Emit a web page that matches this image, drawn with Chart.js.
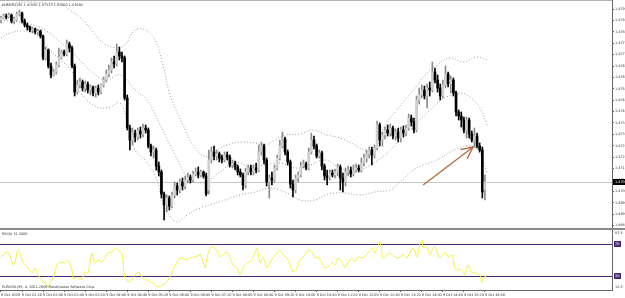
<!DOCTYPE html>
<html><head><meta charset="utf-8">
<script src="https://cdn.jsdelivr.net/npm/chart.js@4/dist/chart.umd.min.js"></script>
<style>
html,body{margin:0;padding:0;background:#fff;width:625px;height:298px;overflow:hidden;position:relative}
#main{position:absolute;left:0;top:0}
#sep{position:absolute;left:0;top:228px;width:625px;height:2px;background:#8a8a8a}
#rsi{position:absolute;left:0;top:230px}
</style></head><body>
<canvas id="main" width="625" height="228"></canvas>
<div id="sep"></div>
<canvas id="rsi" width="625" height="68"></canvas>
<script>
// ---- data ----
const symbolTitle = "EURUSD,M5";
const opens = [1.47900,1.47910,1.47920,1.47915,1.47925,1.47895,1.47900,1.47930,1.47935,1.47895,1.47875,1.47865,1.47850,1.47855,1.47840,1.47845,1.47820,1.47710,1.47750,1.47670,1.47625,1.47640,1.47675,1.47715,1.47740,1.47730,1.47780,1.47760,1.47670,1.47540,1.47575,1.47590,1.47560,1.47580,1.47550,1.47565,1.47535,1.47560,1.47540,1.47575,1.47600,1.47630,1.47650,1.47690,1.47680,1.47740,1.47720,1.47710,1.47510,1.47360,1.47300,1.47335,1.47315,1.47345,1.47330,1.47360,1.47350,1.47270,1.47240,1.47250,1.47170,1.47140,1.47030,1.46975,1.47010,1.46970,1.47025,1.47070,1.47050,1.47090,1.47070,1.47100,1.47115,1.47100,1.47130,1.47140,1.47125,1.47140,1.47120,1.47050,1.47200,1.47240,1.47220,1.47230,1.47210,1.47200,1.47225,1.47215,1.47175,1.47185,1.47165,1.47140,1.47125,1.47075,1.47140,1.47160,1.47140,1.47160,1.47150,1.47240,1.47270,1.47200,1.47090,1.47110,1.47100,1.47160,1.47210,1.47270,1.47305,1.47240,1.47190,1.47080,1.47050,1.47110,1.47125,1.47170,1.47180,1.47160,1.47240,1.47300,1.47270,1.47220,1.47235,1.47170,1.47120,1.47110,1.47135,1.47125,1.47140,1.47165,1.47110,1.47090,1.47140,1.47150,1.47130,1.47150,1.47160,1.47150,1.47185,1.47210,1.47230,1.47250,1.47225,1.47260,1.47375,1.47300,1.47325,1.47350,1.47335,1.47360,1.47320,1.47340,1.47310,1.47350,1.47335,1.47360,1.47410,1.47390,1.47350,1.47500,1.47525,1.47550,1.47520,1.47560,1.47550,1.47640,1.47600,1.47560,1.47520,1.47575,1.47630,1.47580,1.47600,1.47535,1.47440,1.47420,1.47400,1.47350,1.47400,1.47330,1.47300,1.47320,1.47270,1.47250,1.47050];
const highs = [1.47920,1.47930,1.47930,1.47935,1.47930,1.47915,1.47940,1.47950,1.47940,1.47905,1.47885,1.47870,1.47865,1.47860,1.47855,1.47850,1.47825,1.47765,1.47755,1.47685,1.47655,1.47690,1.47760,1.47750,1.47750,1.47800,1.47790,1.47770,1.47680,1.47600,1.47610,1.47600,1.47595,1.47590,1.47575,1.47570,1.47570,1.47575,1.47580,1.47615,1.47650,1.47675,1.47710,1.47720,1.47780,1.47765,1.47740,1.47720,1.47525,1.47375,1.47360,1.47350,1.47360,1.47365,1.47380,1.47375,1.47360,1.47280,1.47270,1.47260,1.47190,1.47150,1.47040,1.47025,1.47020,1.47040,1.47090,1.47085,1.47105,1.47110,1.47120,1.47135,1.47125,1.47145,1.47160,1.47165,1.47150,1.47145,1.47135,1.47250,1.47265,1.47270,1.47250,1.47240,1.47225,1.47240,1.47240,1.47225,1.47200,1.47195,1.47175,1.47155,1.47135,1.47160,1.47175,1.47175,1.47175,1.47185,1.47275,1.47290,1.47280,1.47210,1.47125,1.47140,1.47175,1.47225,1.47300,1.47340,1.47315,1.47250,1.47200,1.47100,1.47125,1.47140,1.47190,1.47200,1.47190,1.47260,1.47335,1.47320,1.47280,1.47250,1.47245,1.47180,1.47150,1.47150,1.47150,1.47155,1.47180,1.47175,1.47135,1.47160,1.47170,1.47165,1.47175,1.47180,1.47175,1.47210,1.47230,1.47250,1.47265,1.47265,1.47275,1.47395,1.47385,1.47340,1.47365,1.47375,1.47380,1.47370,1.47355,1.47360,1.47365,1.47370,1.47375,1.47430,1.47425,1.47410,1.47520,1.47560,1.47575,1.47570,1.47580,1.47590,1.47690,1.47660,1.47625,1.47580,1.47600,1.47670,1.47640,1.47620,1.47610,1.47545,1.47450,1.47440,1.47415,1.47415,1.47410,1.47345,1.47360,1.47335,1.47285,1.47265,1.47125];
const lows = [1.47885,1.47905,1.47905,1.47910,1.47885,1.47880,1.47895,1.47920,1.47885,1.47865,1.47850,1.47840,1.47835,1.47830,1.47825,1.47810,1.47700,1.47700,1.47660,1.47610,1.47620,1.47630,1.47665,1.47705,1.47720,1.47720,1.47740,1.47660,1.47520,1.47530,1.47560,1.47545,1.47540,1.47535,1.47525,1.47520,1.47515,1.47525,1.47530,1.47565,1.47590,1.47615,1.47635,1.47660,1.47670,1.47700,1.47690,1.47500,1.47350,1.47250,1.47275,1.47290,1.47300,1.47310,1.47315,1.47335,1.47260,1.47220,1.47210,1.47150,1.47120,1.47010,1.46900,1.46940,1.46950,1.46960,1.47010,1.47025,1.47035,1.47050,1.47055,1.47085,1.47085,1.47090,1.47120,1.47110,1.47115,1.47110,1.47020,1.47030,1.47185,1.47200,1.47200,1.47190,1.47185,1.47190,1.47200,1.47165,1.47160,1.47150,1.47125,1.47115,1.47050,1.47060,1.47125,1.47125,1.47125,1.47135,1.47140,1.47225,1.47180,1.47070,1.47010,1.47075,1.47090,1.47150,1.47200,1.47260,1.47225,1.47175,1.47060,1.47015,1.47035,1.47090,1.47115,1.47160,1.47150,1.47150,1.47230,1.47255,1.47210,1.47210,1.47150,1.47100,1.47075,1.47100,1.47115,1.47110,1.47120,1.47050,1.47040,1.47070,1.47120,1.47115,1.47120,1.47140,1.47140,1.47140,1.47170,1.47190,1.47210,1.47175,1.47210,1.47250,1.47270,1.47270,1.47305,1.47320,1.47320,1.47305,1.47300,1.47290,1.47290,1.47315,1.47320,1.47350,1.47370,1.47335,1.47340,1.47480,1.47510,1.47505,1.47460,1.47520,1.47540,1.47585,1.47540,1.47500,1.47510,1.47560,1.47565,1.47535,1.47520,1.47420,1.47400,1.47365,1.47335,1.47310,1.47310,1.47290,1.47265,1.47260,1.47240,1.47010,1.47000];
const closes = [1.47910,1.47920,1.47915,1.47925,1.47895,1.47905,1.47930,1.47935,1.47895,1.47875,1.47865,1.47850,1.47855,1.47840,1.47845,1.47820,1.47710,1.47750,1.47670,1.47625,1.47640,1.47675,1.47715,1.47740,1.47730,1.47780,1.47760,1.47670,1.47540,1.47575,1.47590,1.47560,1.47580,1.47550,1.47565,1.47535,1.47560,1.47540,1.47575,1.47600,1.47630,1.47650,1.47690,1.47680,1.47740,1.47720,1.47710,1.47510,1.47360,1.47300,1.47335,1.47315,1.47345,1.47330,1.47360,1.47350,1.47270,1.47240,1.47250,1.47170,1.47140,1.47030,1.46975,1.47010,1.46970,1.47025,1.47070,1.47050,1.47090,1.47070,1.47100,1.47115,1.47100,1.47130,1.47140,1.47125,1.47140,1.47120,1.47030,1.47200,1.47240,1.47220,1.47230,1.47210,1.47200,1.47225,1.47215,1.47175,1.47185,1.47165,1.47140,1.47125,1.47075,1.47140,1.47160,1.47140,1.47160,1.47150,1.47240,1.47270,1.47200,1.47090,1.47110,1.47100,1.47160,1.47210,1.47270,1.47305,1.47240,1.47190,1.47080,1.47050,1.47110,1.47125,1.47170,1.47180,1.47160,1.47240,1.47300,1.47270,1.47220,1.47235,1.47170,1.47120,1.47110,1.47135,1.47125,1.47140,1.47165,1.47110,1.47090,1.47140,1.47150,1.47130,1.47150,1.47160,1.47150,1.47185,1.47210,1.47230,1.47250,1.47225,1.47260,1.47375,1.47300,1.47325,1.47350,1.47335,1.47360,1.47320,1.47340,1.47310,1.47350,1.47335,1.47360,1.47410,1.47390,1.47350,1.47500,1.47525,1.47550,1.47520,1.47560,1.47550,1.47640,1.47600,1.47560,1.47520,1.47575,1.47630,1.47580,1.47600,1.47535,1.47440,1.47420,1.47400,1.47350,1.47400,1.47330,1.47300,1.47320,1.47270,1.47250,1.47040,1.47090];

// Bollinger-style bands: bar index and price
const upperBars = [0,5.3,11,16.7,22.4,26.2,31.2,35,39.5,44.1,47.1,51,54.8,58.6,61.6,64.3,69.2,73.8,78.7,82.1,87.1,92,96.6,100.4,104.2,108,113.7,118.3,124,128.9,134.6,138.4,142.2,146,149.8,153.6,157.4,161.2,165.8,170.7,175.7,181,184.8];
const upperVals = [1.47970,1.47985,1.47990,1.47985,1.47980,1.47950,1.47900,1.47840,1.47780,1.47760,1.47775,1.47850,1.47850,1.47800,1.47675,1.47525,1.47375,1.47260,1.47215,1.47250,1.47280,1.47290,1.47285,1.47275,1.47300,1.47325,1.47330,1.47350,1.47325,1.47310,1.47275,1.47250,1.47260,1.47375,1.47440,1.47500,1.47560,1.47625,1.47675,1.47710,1.47690,1.47715,1.47700];
const middleBars = [0,11,16.7,22.4,28.1,33.8,39.5,45.2,51,55.5,60.5,66.2,71.9,77.6,83.3,89,94.7,100.4,106.1,111.8,117.5,123.2,128.9,134.6,140.3,146,151.7,157.4,163.1,168.8,174.5,178.3,182.1,184.8];
const middleVals = [1.47900,1.47880,1.47850,1.47790,1.47725,1.47650,1.47600,1.47625,1.47550,1.47500,1.47375,1.47225,1.47100,1.47090,1.47140,1.47190,1.47165,1.47175,1.47185,1.47160,1.47175,1.47200,1.47160,1.47140,1.47175,1.47225,1.47300,1.47375,1.47450,1.47510,1.47535,1.47515,1.47460,1.47375];
const lowerBars = [0,3.4,8.4,13.7,18.6,23.6,27,30,36.5,41.4,45.2,47.9,51,54.8,58.6,61.2,63.1,66.9,70.7,75.7,79.5,85.2,90.9,96.6,102.3,108,113.7,119.4,123.2,127,130.8,136.5,142.2,147.9,151.7,156.7,160.5,165.8,170.7,174.5,178.3,181.4,184.8];
const lowerVals = [1.47810,1.47835,1.47845,1.47830,1.47750,1.47690,1.47640,1.47540,1.47465,1.47465,1.47485,1.47400,1.47250,1.47200,1.47125,1.47000,1.46940,1.46890,1.46925,1.46960,1.46975,1.47000,1.47025,1.47040,1.47060,1.47040,1.47000,1.47000,1.47025,1.47035,1.47035,1.47025,1.47040,1.47050,1.47090,1.47150,1.47175,1.47200,1.47240,1.47260,1.47270,1.47250,1.47140];

// RSI
const rsiName = "RSI(8)";
const rsiBars = [0,1.5,2.7,4.2,4.6,5.3,6.1,6.5,7.2,8.4,10.3,11.8,12.9,14.1,15.6,16.7,17.9,18.6,19.8,21.3,22.4,24.3,25.5,27,27.4,28.9,30.8,31.9,33.1,34.6,35.7,36.9,38.4,39.5,40.7,42.2,43.3,44.5,46,47.1,49,50.2,52.1,53.6,55.5,57.8,59.7,61.6,63.1,65,66.2,68.1,70.7,71.9,73.8,75.7,76.8,77.6,78.3,79.5,80.6,82.1,83.3,84.4,85.9,87.1,88.2,89.7,90.9,92,93.5,94.7,95.8,97.3,98.5,99.6,101.1,102.3,103.4,106.1,107.2,108.7,109.9,111,112.5,113.7,115.6,116.7,118.3,119.4,120.5,122.1,123.2,124.3,125.9,127,128.1,129.7,130.8,131.9,133.5,134.6,135.7,137.6,139.5,141.1,142.2,144.1,145.2,146.8,147.9,149,150.6,151.7,152.9,154.4,155.5,156.7,158.2,159.3,160.1,160.5,162,163.1,164.3,165,165.8,166.9,168.8,170,171.5,172.6,173.8,175.3,176.4,177.6,179.1,180.2,181.4,182.1,182.9,183.3,184,184.8];
const rsiVals = [53.8,58.8,60,47.5,43.8,46.3,60,62.5,58.8,47.5,40,33.8,40,31.3,25,21.3,16.3,21.3,27.5,43.8,47.5,46.3,50,37.5,27.5,27.5,26.3,35,33.8,58.8,46.3,50,47.5,52.5,58.8,60,65,62.5,58.8,27.5,22.5,27.5,35,28.8,25,21.3,16.3,18.8,22.5,33.8,43.8,52.5,50,52.5,53.8,56.3,47.5,40,52.5,65,66.3,62.5,53.8,56.3,60,52.5,43.8,40,31.3,40,46.3,47.5,52.5,65,46.3,53.8,40,47.5,52.5,62.5,56.3,52.5,43.8,35,40,50,56.3,62.5,60,52.5,53.8,46.3,40,41.3,46.3,43.8,52.5,47.5,40,46.3,52.5,47.5,53.8,52.5,58.8,65,58.8,72.5,52.5,56.3,58.8,56.3,52.5,53.8,56.3,52.5,60,65,53.8,71.3,75,65,66.3,56.3,65,66.3,60,52.5,60,53.8,56.3,40,37.5,37.5,31.3,43.8,33.8,35,31.3,31.3,21.3,27.5,28.8,31.3];
const rsiLevels = [70, 30];

// axis ticks
const priceTicks = [1.47955,1.47898,1.47841,1.47784,1.47727,1.47670,1.47613,1.47556,1.47499,1.47442,1.47385,1.47328,1.47271,1.47214,1.47157,1.47100,1.47043,1.46986,1.46929,1.46872];
const timeTickBars = [0,8,16,24,32,40,48,56,64,72,80,88,96,104,112,120,128,136,144,152,160,168,176,184];
const timeTickLabels = ["9 Oct 2009","9 Oct 01:20","9 Oct 02:00","9 Oct 02:40","9 Oct 03:20","9 Oct 04:00","9 Oct 04:40","9 Oct 05:20","9 Oct 06:00","9 Oct 06:40","9 Oct 07:20","9 Oct 08:00","9 Oct 08:40","9 Oct 09:20","9 Oct 10:00","9 Oct 10:40","9 Oct 11:20","9 Oct 12:00","9 Oct 12:40","9 Oct 13:20","9 Oct 14:00","9 Oct 14:40","9 Oct 15:20","9 Oct 16:00"];

// drawn arrow (bar index, price)
const arrowFrom = [160.5, 1.47075];
const arrowTo = [179.5, 1.47265];
const copyright = "EURUSD,M5, \u00a9 2001-2009 MetaQuotes Software Corp.";

// ---- build ----
const FONT = 'DejaVu Sans';
const FS = 3.4;
const TXT = '#333';
const XMIN = -0.38, XMAX = 232.3;
const n = closes.length;
const idx = closes.map((_, i) => i);
const isBull = i => closes[i] >= opens[i];
const pts = (xs, ys) => xs.map((x, i) => ({x: x, y: ys[i]}));
const bandStyle = {type:'line', borderColor:'#9c9c9c', borderWidth:1, borderDash:[1,2], pointRadius:0, fill:false, tension:0.4, order:2};

const mainOverlay = {
  id: 'mainOverlay',
  beforeDatasetsDraw(chart) {
    const {ctx, chartArea:a, scales} = chart;
    const y = Math.round(scales.y.getPixelForValue(closes[n-1])) + 0.5;
    ctx.save();
    ctx.strokeStyle = '#c8c8c8'; ctx.lineWidth = 1;
    ctx.beginPath(); ctx.moveTo(a.left, y); ctx.lineTo(a.right, y); ctx.stroke();
    ctx.strokeStyle = '#b4b4b4';
    ctx.beginPath(); ctx.moveTo(a.left, 0.5); ctx.lineTo(a.right, 0.5); ctx.stroke();
    ctx.restore();
  },
  afterDatasetsDraw(chart) {
    const {ctx, chartArea:a, scales} = chart;
    const x1 = scales.x.getPixelForValue(arrowFrom[0]), y1 = scales.y.getPixelForValue(arrowFrom[1]);
    const x2 = scales.x.getPixelForValue(arrowTo[0]), y2 = scales.y.getPixelForValue(arrowTo[1]);
    ctx.save();
    ctx.strokeStyle = '#b4683c'; ctx.lineWidth = 1.3;
    ctx.beginPath(); ctx.moveTo(x1, y1); ctx.lineTo(x2, y2); ctx.stroke();
    const ang = Math.atan2(y2 - y1, x2 - x1), L = 13;
    ctx.beginPath();
    ctx.moveTo(x2 - L*Math.cos(ang - 0.45), y2 - L*Math.sin(ang - 0.45)); ctx.lineTo(x2, y2);
    ctx.lineTo(x2 - L*Math.cos(ang + 0.45), y2 - L*Math.sin(ang + 0.45));
    ctx.stroke();
    // title
    ctx.fillStyle = TXT; ctx.font = FS + 'px ' + FONT; ctx.textBaseline = 'middle'; ctx.textAlign = 'left';
    const t = n - 1;
    ctx.fillText(symbolTitle + ' ' + [opens[t], highs[t], lows[t], closes[t]].map(v => v.toFixed(5)).join(' '), 2, 5);
    // current price box
    const yb = Math.round(scales.y.getPixelForValue(closes[t]));
    ctx.fillStyle = '#000'; ctx.fillRect(a.right + 1, yb - 3, 13, 6);
    ctx.fillStyle = '#fff'; ctx.fillText(closes[t].toFixed(5), a.right + 3, yb);
    ctx.restore();
  }
};

new Chart(document.getElementById('main'), {
  type: 'bar',
  data: {
    datasets: [
      {type:'bar', data: idx.map(i => ({x:i, y:[lows[i], highs[i]]})), backgroundColor: idx.map(i => isBull(i) ? '#8c8c8c' : '#000'), barThickness:1, grouped:false, order:1},
      {type:'bar', data: idx.map(i => ({x:i, y:[opens[i], closes[i]]})), backgroundColor: idx.map(i => isBull(i) ? '#cfcfcf' : '#000'), barThickness:2, minBarLength:1, grouped:false, order:0},
      Object.assign({data: pts(upperBars, upperVals)}, bandStyle),
      Object.assign({data: pts(middleBars, middleVals)}, bandStyle),
      Object.assign({data: pts(lowerBars, lowerVals)}, bandStyle)
    ]
  },
  options: {
    responsive:false, animation:false, devicePixelRatio:1,
    layout:{padding:0},
    plugins:{legend:{display:false}, tooltip:{enabled:false}},
    scales:{
      x:{type:'linear', display:false, min:XMIN, max:XMAX, offset:false},
      y:{position:'right', min:1.4686, max:1.48,
        afterBuildTicks: s => { s.ticks = priceTicks.map(v => ({value:v})); },
        afterFit: s => { s.width = 13; s.paddingTop = 0; s.paddingBottom = 0; },
        ticks:{autoSkip:false, font:{size:FS, family:FONT}, color:TXT, padding:1, callback: v => Number(v).toFixed(5)},
        grid:{drawOnChartArea:false, tickLength:2, color:'#666'},
        border:{color:'#666'}
      }
    }
  },
  plugins:[mainOverlay]
});

const rsiOverlay = {
  id:'rsiOverlay',
  beforeDatasetsDraw(chart) {
    const {ctx, chartArea:a, scales} = chart;
    ctx.save();
    ctx.strokeStyle = '#4a2a78'; ctx.lineWidth = 1.2;
    rsiLevels.forEach(l => {
      const y = Math.round(scales.y.getPixelForValue(l)) + 0.5;
      ctx.beginPath(); ctx.moveTo(a.left, y); ctx.lineTo(a.right, y); ctx.stroke();
    });
    ctx.restore();
  },
  afterDatasetsDraw(chart) {
    const {ctx, chartArea:a, scales} = chart;
    ctx.save();
    ctx.font = FS + 'px ' + FONT; ctx.textBaseline = 'middle'; ctx.textAlign = 'left';
    rsiLevels.forEach(l => {
      const y = Math.round(scales.y.getPixelForValue(l));
      ctx.fillStyle = '#4a2a78'; ctx.fillRect(a.right + 2, y - 3, 7, 6);
      ctx.fillStyle = '#fff'; ctx.fillText(String(l), a.right + 3, y);
    });
    ctx.fillStyle = TXT;
    ctx.fillText(String(scales.y.max), a.right + 3, a.top + 3);
    ctx.fillText(String(scales.y.min), a.right + 3, a.bottom - 3);
    ctx.fillText(rsiName + ' ' + rsiVals[rsiVals.length - 1].toFixed(4), 2, a.top + 4);
    ctx.fillText(copyright, 2, a.bottom - 3);
    ctx.restore();
  }
};

new Chart(document.getElementById('rsi'), {
  type:'line',
  data:{datasets:[{data: pts(rsiBars, rsiVals), borderColor:'#f4f03c', borderWidth:1, pointRadius:0, tension:0.2, fill:false}]},
  options:{
    responsive:false, animation:false, devicePixelRatio:1,
    layout:{padding:0},
    plugins:{legend:{display:false}, tooltip:{enabled:false}},
    scales:{
      x:{type:'linear', min:XMIN, max:XMAX, offset:false,
        afterBuildTicks: s => { s.ticks = timeTickBars.map(v => ({value:v})); },
        afterFit: s => { s.height = 8; s.paddingLeft = 0; s.paddingRight = 0; },
        ticks:{autoSkip:false, maxRotation:0, align:'start', padding:1, font:{size:FS, family:FONT}, color:TXT,
          callback: (v) => { const k = timeTickBars.indexOf(v); return k >= 0 ? timeTickLabels[k] : ''; }},
        grid:{drawOnChartArea:false, tickLength:2, color:'#666'},
        border:{color:'#666'}
      },
      y:{position:'right', min:12.5, max:87.5,
        afterBuildTicks: s => { s.ticks = []; },
        afterFit: s => { s.width = 13; s.paddingTop = 0; s.paddingBottom = 0; },
        ticks:{display:false},
        grid:{drawOnChartArea:false, drawTicks:false},
        border:{color:'#666'}
      }
    }
  },
  plugins:[rsiOverlay]
});
</script>
</body></html>
